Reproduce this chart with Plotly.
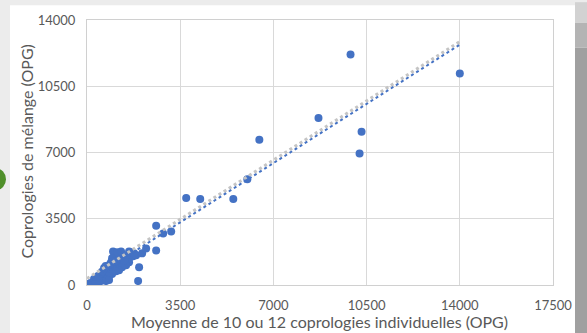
import plotly.graph_objects as go

# Individual faecal egg count means (x) vs pooled counts (y), OPG
mean_individual = [
    0, 75, 150, 226, 301, 263, 376, 452, 489, 564, 602, 677, 715, 640, 753, 790, 865, 828,
    903, 941, 978, 1016, 1054, 1091, 1129, 1167, 1204, 1242, 1279, 1317, 1016, 1091, 1167,
    1242, 1355, 1430, 1392, 1505, 1543, 1618, 1656, 1731, 1580, 1468, 1317, 1204, 1091,
    941, 828, 677, 527, 414, 978, 1129, 1279, 1580, 1656, 1769, 1844, 414, 527, 339, 903,
    941, 113, 38, 188, 301, 715, 828, 560, 640, 1000, 1180, 1400, 1060, 860, 700,
    1919, 1957, 2070, 2220, 2597, 2597, 2860, 3161, 3725, 4252, 5494, 6021, 6472, 8693,
    9897, 10311, 10236, 14000,
]
pooled = [
    0, 52, 104, 157, 209, 313, 261, 366, 470, 418, 575, 522, 679, 784, 784, 627, 731, 888,
    836, 993, 888, 1045, 940, 1149, 993, 1202, 1097, 1254, 1149, 1358, 1515, 1619, 1410,
    1619, 1515, 1410, 1202, 1306, 1567, 1463, 1619, 1515, 1202, 1045, 940, 784, 731,
    575, 470, 313, 209, 104, 1776, 1724, 1776, 1776, 1724, 1672, 1567, 470, 627, 366, 1202,
    1410, 0, 0, 0, 52, 209, 261, 700, 900, 1300, 1350, 1300, 1250, 1100, 1000,
    209, 940, 1672, 1933, 1828, 3134, 2716, 2821, 4597, 4545, 4545, 5590, 7679, 8829,
    12172, 8097, 6948, 11180,
]

# Trend lines (slope, intercept) over x range
trend_x = [0, 14000]
trend_blue = (0.894, 180)
trend_grey = (0.894, 340)

x_ticks = [0, 3500, 7000, 10500, 14000, 17500]
y_ticks = [0, 3500, 7000, 10500, 14000]

x_title = "Moyenne de 10 ou 12 coprologies individuelles (OPG)"
y_title = "Coprologies de mélange (OPG)"

FONT = "Lato"
TXT = "#595959"

fig = go.Figure()
fig.add_trace(go.Scatter(
    x=mean_individual, y=pooled, mode="markers",
    marker=dict(color="#4472C4", size=8, line=dict(width=0)),
    showlegend=False, hoverinfo="skip",
))
fig.add_trace(go.Scatter(
    x=trend_x, y=[trend_grey[0] * v + trend_grey[1] for v in trend_x], mode="lines",
    line=dict(color="#c4c4c4", width=3, dash="dot"), showlegend=False, hoverinfo="skip",
))
fig.add_trace(go.Scatter(
    x=trend_x, y=[trend_blue[0] * v + trend_blue[1] for v in trend_x], mode="lines",
    line=dict(color="#4472C4", width=2, dash="dot"), showlegend=False, hoverinfo="skip",
))

W, H = 587, 333
L, R, T, B = 87, 34, 17, 48
pw, ph = W - L - R, H - T - B


def px(xp):
    return (xp - L) / pw


def py(yp):
    return (H - B - yp) / ph


shapes = [
    dict(type="rect", xref="paper", yref="paper", x0=px(10), x1=px(575), y0=py(334), y1=py(2),
         fillcolor="white", line=dict(width=0), layer="below"),
    dict(type="circle", xref="paper", yref="paper", x0=px(-14), x1=px(6), y0=py(189), y1=py(167),
         fillcolor="#4f8f2a", line=dict(width=0), layer="below"),
    dict(type="rect", xref="paper", yref="paper", x0=px(575), x1=px(588), y0=py(334), y1=py(45),
         fillcolor="#a0a0a0", line=dict(width=0), layer="below"),
    dict(type="rect", xref="paper", yref="paper", x0=px(575), x1=px(588), y0=py(45), y1=py(20),
         fillcolor="#b4b4b4", line=dict(width=0), layer="below"),
    dict(type="rect", xref="paper", yref="paper", x0=px(575), x1=px(588), y0=py(20), y1=py(-1),
         fillcolor="#d2d2d2", line=dict(width=0), layer="below"),
]

fig.update_layout(
    width=W, height=H,
    margin=dict(l=L, r=R, t=T, b=B),
    paper_bgcolor="#ececec", plot_bgcolor="white",
    font=dict(family=FONT, size=13, color=TXT),
    shapes=shapes,
    annotations=[
        dict(text=x_title, xref="paper", yref="paper", x=px(319), y=py(322),
             xanchor="center", yanchor="middle", showarrow=False,
             font=dict(family=FONT, size=16, color=TXT)),
        dict(text=y_title, xref="paper", yref="paper", x=px(27), y=py(150),
             xanchor="center", yanchor="middle", showarrow=False, textangle=-90,
             font=dict(family=FONT, size=16, color=TXT)),
    ],
)
fig.update_xaxes(
    range=[0, 17500], tickvals=x_ticks, ticktext=[str(v) for v in x_ticks],
    showgrid=True, gridcolor="#d9d9d9", gridwidth=1, zeroline=False,
    showline=True, linecolor="#d0d0d0", linewidth=1, mirror=True,
    ticks="", ticklabelstandoff=8, tickfont=dict(family=FONT, size=13, color=TXT),
)
fig.update_yaxes(
    range=[0, 14000], tickvals=y_ticks, ticktext=[str(v) for v in y_ticks],
    showgrid=True, gridcolor="#d9d9d9", gridwidth=1, zeroline=False,
    showline=True, linecolor="#d0d0d0", linewidth=1, mirror=True,
    ticks="", ticklabelstandoff=8, tickfont=dict(family=FONT, size=13, color=TXT),
)

fig.write_html(
    "out.html",
    config={"displayModeBar": False},
    post_script="document.body.style.margin='0';document.body.style.background='#ececec';"
                "document.documentElement.style.overflow='hidden';",
)
